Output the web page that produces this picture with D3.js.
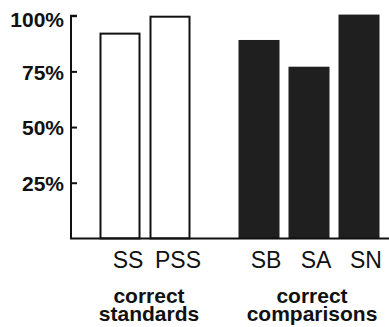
<!DOCTYPE html>
<html>
<head>
<meta charset="utf-8">
<script src="https://cdn.jsdelivr.net/npm/d3@7/dist/d3.min.js"></script>
<style>
  html, body { margin: 0; padding: 0; background: #fff; }
  svg { display: block; }
</style>
</head>
<body>
<script>
// ---- data ----
const categories = ["SS", "PSS", "SB", "SA", "SN"];
const groups = ["standards", "comparisons"];
const categoryGroup = ["standards", "standards", "comparisons", "comparisons", "comparisons"];
const values = [92.4, 100, 89.1, 77.1, 100.5];
const groupLabels = [["correct", "standards"], ["correct", "comparisons"]];
const yTicks = [25, 50, 75, 100];
const yTickLabels = ["25%", "50%", "75%", "100%"];

// ---- layout ----
const W = 389, H = 327;
const axisX = 71, baseY = 238.4, topY = 15.7;
const font = "'Liberation Sans', Arial, Helvetica, sans-serif";

const svg = d3.select("body").append("svg").attr("width", W).attr("height", H);

const y = d3.scaleLinear().domain([0, 100]).range([baseY, topY]);
const gx = d3.scalePoint().domain(groups).range([146, 309]);
const step = 50;
const barW = 41;

function cx(i) {
  const g = categoryGroup[i];
  const members = categories.filter((c, j) => categoryGroup[j] === g);
  const k = members.indexOf(categories[i]);
  return gx(g) + (k - (members.length - 1) / 2) * step;
}

const data = categories.map((c, i) => ({ c, v: values[i], g: categoryGroup[i], i }));

// bars
svg.append("g").selectAll("rect").data(data).join("rect")
  .attr("x", d => cx(d.i) - barW / 2)
  .attr("y", d => d.g === "standards" ? y(d.v) + 1 : y(d.v))
  .attr("width", d => d.g === "standards" ? barW - 2 : barW)
  .attr("height", d => d.g === "standards" ? baseY - y(d.v) - 1 : baseY - y(d.v))
  .attr("fill", d => d.g === "standards" ? "#fff" : "#1f1f1f")
  .attr("stroke", d => d.g === "standards" ? "#111" : "none")
  .attr("stroke-width", 2);

// y axis
const yAxis = d3.axisRight(y).tickValues(yTicks.concat([0])).tickSize(6).tickFormat("");
const ya = svg.append("g").attr("transform", `translate(${axisX},0)`).call(yAxis);
ya.select(".domain").attr("d", `M6,${topY}H0V${baseY}`).attr("stroke", "#111").attr("stroke-width", 2);
ya.selectAll(".tick line").attr("stroke", "#111").attr("stroke-width", 2);
ya.selectAll(".tick").filter(d => d === 0).remove();

// tick labels
svg.append("g").selectAll("text").data(yTicks).join("text")
  .attr("x", 64)
  .attr("y", d => y(d) + (d === 100 ? 4 : 1))
  .attr("dy", "0.35em")
  .attr("text-anchor", "end")
  .attr("font-family", font)
  .attr("font-weight", "bold")
  .attr("font-size", 21)
  .attr("fill", "#111")
  .text((d, i) => yTickLabels[i]);

// baseline
svg.append("line")
  .attr("x1", axisX - 1).attr("x2", W)
  .attr("y1", baseY).attr("y2", baseY)
  .attr("stroke", "#111").attr("stroke-width", 2);

// category labels
svg.append("g").selectAll("text").data(data).join("text")
  .attr("x", d => cx(d.i) + 7)
  .attr("y", 268)
  .attr("text-anchor", "middle")
  .attr("font-family", font)
  .attr("font-size", 23)
  .attr("fill", "#111")
  .text(d => d.c);

// group labels
groups.forEach((g, gi) => {
  const t = svg.append("text")
    .attr("x", gx(g) + 3)
    .attr("y", 302.5)
    .attr("text-anchor", "middle")
    .attr("font-family", font)
    .attr("font-weight", "bold")
    .attr("font-size", 21)
    .attr("fill", "#111");
  groupLabels[gi].forEach((line, li) => {
    t.append("tspan").attr("x", gx(g) + 3).attr("dy", li === 0 ? 0 : 18.5).text(line);
  });
});
</script>
</body>
</html>
